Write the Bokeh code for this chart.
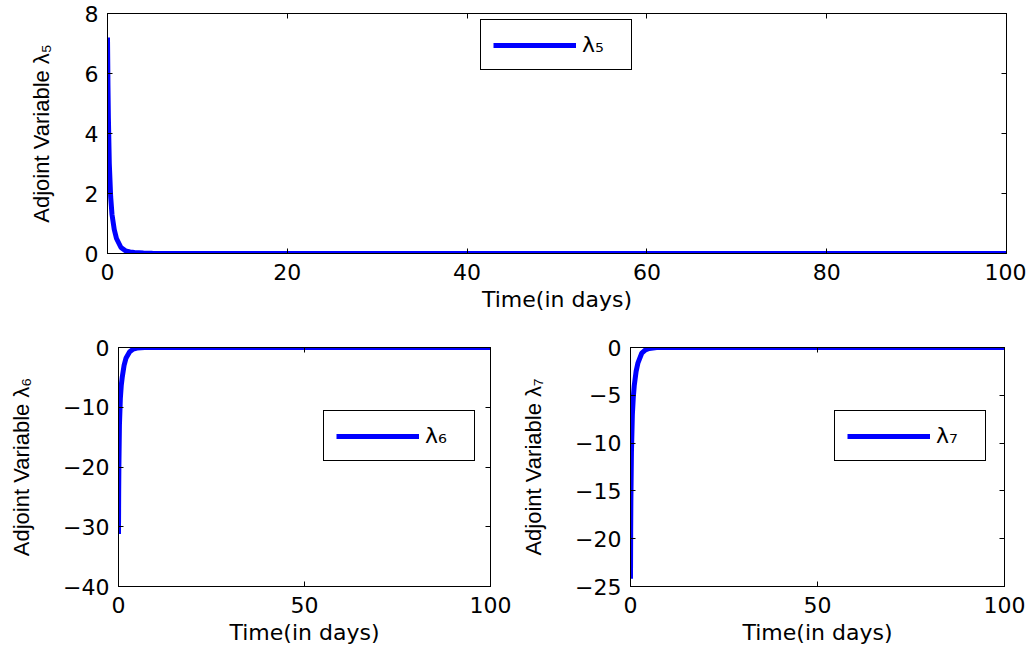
from bokeh.plotting import figure
from bokeh.layouts import column, row
from bokeh.models import Range1d, LinearAxis, FixedTicker, CustomLabelingPolicy
from bokeh.embed import file_html
from bokeh.resources import INLINE

# ---- data ----
t5 = [0, 0.05, 0.1, 0.2, 0.35, 0.5, 0.75, 1.0, 1.5, 2.0, 2.5, 3.0, 4.0, 5.0, 10, 100]
lam5 = [7.2, 5.6, 4.5, 3.0, 1.9, 1.3, 0.8, 0.5, 0.2, 0.09, 0.05, 0.03, 0.015, 0.008, 0.003, 0.0]

t6 = [0, 0.05, 0.1, 0.25, 0.5, 0.75, 1.0, 1.5, 2.0, 3.0, 4.0, 5.0, 7.0, 100]
lam6 = [-31.2, -24.0, -20.0, -13.0, -8.5, -6.3, -5.0, -3.0, -1.8, -0.7, -0.25, -0.1, 0.0, 0.0]

t7 = [0, 0.05, 0.1, 0.25, 0.5, 0.75, 1.0, 1.5, 2.0, 3.0, 4.0, 5.0, 7.0, 100]
lam7 = [-24.2, -19.0, -16.0, -11.0, -7.0, -5.2, -4.0, -2.5, -1.6, -0.6, -0.25, -0.1, 0.0, 0.0]

xticks_top = [0, 20, 40, 60, 80, 100]
xticks_bot = [0, 50, 100]
yticks5 = [0, 2, 4, 6, 8]
yticks6 = [-40, -30, -20, -10, 0]
yticks7 = [-25, -20, -15, -10, -5, 0]

FONT = "DejaVu Sans"
YFONT = "Liberation Sans"
FS = "22px"
BLUE = "#0000ff"


def lab(v):
    return ("\u2212" + str(-v)) if v < 0 else str(v)


def make(width, height, borders, yr, xticks, yticks, ylabel, t, y, leg, legloc, ylab_standoff):
    l, r, tp, b = borders
    p = figure(width=width, height=height, x_range=Range1d(0, 100), y_range=Range1d(*yr),
               output_backend="svg", toolbar_location=None,
               min_border_left=l, min_border_right=r, min_border_top=tp, min_border_bottom=b)
    p.xgrid.visible = False
    p.ygrid.visible = False
    p.outline_line_color = "black"
    p.outline_line_alpha = 1.0
    p.outline_line_width = 1
    p.background_fill_color = "white"
    p.border_fill_color = "white"

    p.xaxis.ticker = FixedTicker(ticks=xticks)
    p.xaxis.major_label_overrides = {v: lab(v) for v in xticks}
    p.yaxis.ticker = FixedTicker(ticks=yticks)
    p.yaxis.major_label_overrides = {v: lab(v) for v in yticks}
    p.xaxis.axis_label = "Time(in days)"
    p.yaxis.axis_label = ylabel
    for ax in p.xaxis + p.yaxis:
        ax.axis_line_color = "black"
        ax.major_tick_in = 5
        ax.major_tick_out = 0
        ax.minor_tick_in = 0
        ax.minor_tick_out = 0
        ax.major_tick_line_color = "black"
        ax.major_label_text_font = FONT
        ax.major_label_text_font_size = FS
        ax.major_label_text_color = "black"
        ax.axis_label_text_font = FONT
        ax.axis_label_text_font_size = FS
        ax.axis_label_text_font_style = "normal"
        ax.axis_label_text_color = "black"
    p.yaxis.axis_label_text_font = YFONT
    p.xaxis.major_label_standoff = 10
    p.xaxis.axis_label_standoff = 4
    p.yaxis.major_label_standoff = 9
    p.yaxis.axis_label_standoff = ylab_standoff

    # ticks on top and right edges (box style), no labels
    for loc, tk in (("above", xticks), ("right", yticks)):
        ax = LinearAxis(ticker=FixedTicker(ticks=tk), major_tick_in=5, major_tick_out=0,
                        minor_tick_in=0, minor_tick_out=0, major_label_standoff=0,
                        major_label_policy=CustomLabelingPolicy(code="return new Set()"),
                        axis_line_color="black")
        p.add_layout(ax, loc)

    p.line(t, y, line_color=BLUE, line_width=5, legend_label=leg)

    lg = p.legend[0]
    lg.location = legloc
    lg.border_line_color = "black"
    lg.border_line_width = 1
    lg.border_line_alpha = 1.0
    lg.background_fill_color = "white"
    lg.background_fill_alpha = 1.0
    lg.label_text_font = FONT
    lg.label_text_font_size = FS
    lg.label_text_color = "black"
    lg.glyph_width = 83
    lg.glyph_height = 20
    lg.label_width = 37
    lg.padding = 12
    lg.margin = 0
    lg.spacing = 0
    lg.label_standoff = 6
    return p


p1 = make(1026, 330, (107, 20, 13, 77), (0, 8), xticks_top, yticks5,
          "Adjoint Variable \u03bb\u2085", t5, lam5, "\u03bb\u2085", (373, 183), 28)
p2 = make(518, 317, (118, 28, 17, 60), (-40, 0), xticks_bot, yticks6,
          "Adjoint Variable \u03bb\u2086", t6, lam6, "\u03bb\u2086", (205, 125), 26)
p3 = make(508, 317, (111, 20, 17, 60), (-25, 0), xticks_bot, yticks7,
          "Adjoint Variable \u03bb\u2087", t7, lam7, "\u03bb\u2087", (204, 125), 26)

layout = column(p1, row(p2, p3))
open("out.html", "w").write(file_html(layout, INLINE))
